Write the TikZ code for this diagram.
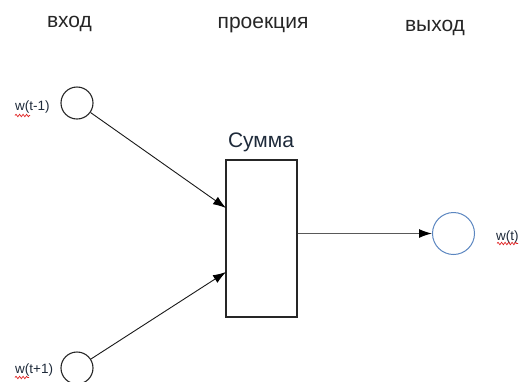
\documentclass[tikz,border=0pt]{standalone}
\usepackage{fontspec}
\setmainfont{Liberation Sans}
\usetikzlibrary{arrows.meta,decorations.pathmorphing}
\definecolor{ink}{HTML}{1E2A3A}
\definecolor{outblue}{HTML}{5B86C0}
\definecolor{spell}{HTML}{E02020}
\begin{document}
\begin{tikzpicture}[x=1pt,y=-1pt,
  header/.style={font=\fontsize{21}{24}\selectfont, text=black!85, anchor=base, inner sep=0pt},
  wlabel/.style={font=\fontsize{13.5}{15}\selectfont, text=ink, anchor=base west, inner sep=0pt},
  neuron/.style={circle, draw=black!85, line width=1.1pt, minimum size=32pt, inner sep=0pt},
  sumbox/.style={rectangle, draw=black!85, line width=1.2pt, minimum width=71pt, minimum height=157pt, inner sep=0pt},
  link/.style={draw=black!90, line width=0.9pt, -{Latex[length=13pt,width=9pt,color=black]}},
  squiggle/.style={draw=spell, line width=0.7pt, decorate, decoration={snake, amplitude=1.2pt, segment length=3.5pt}}
]
\useasboundingbox (0,0) rectangle (521,381);

% column headers
\node[header] (hin)  at (69.5,27) {вход};
\node[header] (hprj) at (263,28) {проекция};
\node[header] (hout) at (435,31) {выход};

% input words
\node[neuron] (in1) at (77,103) {};
\node[neuron] (in2) at (77,368) {};
\node[wlabel] (l1) at (15,110) {w(t-1)};
\node[wlabel] (l2) at (15,373) {w(t+1)};

% projection layer
\node[sumbox] (box) at (261.5,238.5) {};
\node[font=\fontsize{21}{24}\selectfont, text=ink, anchor=base, inner sep=0pt] (sum) at (261,147) {Сумма};

% output word
\node[neuron, draw=outblue, line width=1pt, minimum size=42pt] (out) at (453.5,233.5) {};
\node[wlabel] (l3) at (496,240) {w(t)};

% arrow end points on the left side of the box
\coordinate (t1) at (226,208);
\coordinate (t2) at (226,272);

\draw[link] (in1) -- (t1);
\draw[link] (in2) -- (t2);
\draw[link, draw=black!65, line width=1.3pt] (box.east |- out) -- (out);

% spell-check underlines
\draw[squiggle] (15,115.5) -- (30,115.5);
\draw[squiggle] (15,377.5) -- (29,377.5);
\draw[squiggle] (497,243.5) -- (518,243.5);
\end{tikzpicture}
\end{document}
